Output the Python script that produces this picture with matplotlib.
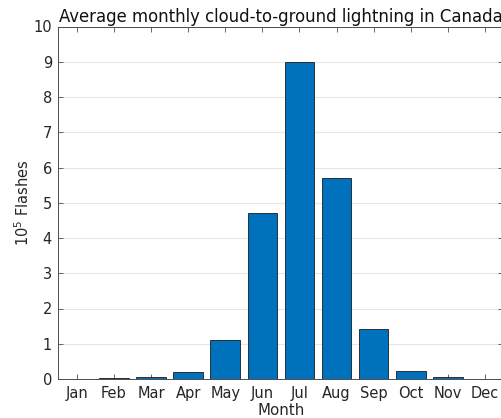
import matplotlib
matplotlib.use("Agg")
import matplotlib.pyplot as plt

months = ["Jan", "Feb", "Mar", "Apr", "May", "Jun",
          "Jul", "Aug", "Sep", "Oct", "Nov", "Dec"]
flashes_1e5 = [0.005, 0.02, 0.05, 0.19, 1.12, 4.72,
               9.0, 5.70, 1.42, 0.22, 0.05, 0.01]
y_ticks = [0, 1, 2, 3, 4, 5, 6, 7, 8, 9, 10]

plt.rcParams["font.family"] = ["DejaVu Sans"]
text_col = "#262626"
axis_col = "#4d4d4d"

fig = plt.figure(figsize=(5.02, 4.18), dpi=100)
W, H = 502, 418
left, right, top, bottom = 58.3, 503.5, 26.5, 379.0
ax = fig.add_axes([left / W, 1 - bottom / H, (right - left) / W, (bottom - top) / H])

x = list(range(1, len(months) + 1))
ax.bar(x, flashes_1e5, width=0.8, color="#0072BD",
       edgecolor="#1a1a1a", linewidth=0.6, zorder=3)

ax.set_xlim(0.5, 12.5)
ax.set_ylim(0, 10)
ax.set_xticks(x)
ax.set_xticklabels(months)
ax.set_yticks(y_ticks)

ax.grid(axis="y", color="#e6e6e6", linewidth=0.8, zorder=0)
ax.tick_params(direction="in", length=3.5, width=0.6, colors=axis_col,
               labelcolor=text_col, labelsize=10.5,
               top=True, right=True, pad=5)
ax.tick_params(axis="y", pad=4.5)
for s in ax.spines.values():
    s.set_color(axis_col)
    s.set_linewidth(0.7)

ax.set_xlabel("Month", fontsize=10.8, color=text_col, labelpad=1.5)
ax.set_ylabel("$10^5$ Flashes", fontsize=10.5, color=text_col, labelpad=1)
ax.set_title("Average monthly cloud-to-ground lightning in Canada",
             fontsize=11.9, color="#111111", pad=3)

fig.savefig("out.png", dpi=100)
